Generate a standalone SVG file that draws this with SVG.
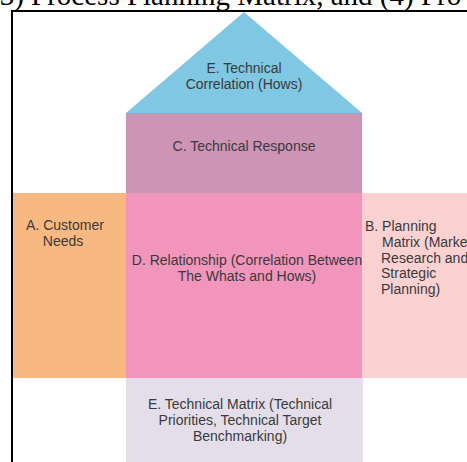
<svg xmlns="http://www.w3.org/2000/svg" width="467" height="462" viewBox="0 0 467 462">
  <style>
    .lbl { font-family: "Liberation Sans", Arial, sans-serif; font-size: 14px; fill: #3a3a3a; }
    .mid { text-anchor: middle; }
    .cap { font-family: "Liberation Serif", "Times New Roman", serif; font-size: 29px; fill: #000; }
  </style>

  <rect x="0" y="0" width="467" height="462" fill="#ffffff"/>

  <!-- caption line running off the top edge -->
  <text class="cap" x="-10" y="5">(3) Process Planning Matrix, and (4) Pro</text>

  <!-- house of quality blocks -->
  <g id="roof">
    <polygon points="244,12 126,113 362,113" fill="#80C7E4"/>
    <text class="lbl mid" x="244" y="73">E. Technical</text>
    <text class="lbl mid" x="244" y="89">Correlation (Hows)</text>
  </g>

  <g id="technical-response">
    <rect x="126" y="113" width="236" height="80" fill="#CD94B6"/>
    <line x1="126" y1="113.5" x2="362" y2="113.5" stroke="#8aa9c0" stroke-width="1"/>
    <text class="lbl mid" x="244" y="151">C. Technical Response</text>
  </g>

  <g id="customer-needs">
    <rect x="12" y="193" width="114" height="185" fill="#F8B881"/>
    <text class="lbl mid" x="65" y="230" fill="#4a3a30">A. Customer</text>
    <text class="lbl mid" x="63" y="246" fill="#4a3a30">Needs</text>
  </g>

  <g id="relationship">
    <rect x="126" y="193" width="236" height="185" fill="#F295BA"/>
    <text class="lbl mid" x="247" y="265" fill="#4d2c3e">D. Relationship (Correlation Between</text>
    <text class="lbl mid" x="247" y="281" fill="#4d2c3e">The Whats and Hows)</text>
  </g>

  <g id="planning-matrix">
    <rect x="362" y="193" width="105" height="185" fill="#FCD1D1"/>
    <text class="lbl" x="365" y="231">B. Planning</text>
    <text class="lbl" x="382" y="247">Matrix (Market</text>
    <text class="lbl" x="381" y="263">Research and</text>
    <text class="lbl" x="381" y="278">Strategic</text>
    <text class="lbl" x="381" y="294">Planning)</text>
  </g>

  <g id="technical-matrix">
    <rect x="126" y="378" width="237" height="84" fill="#E4DEEA"/>
    <text class="lbl mid" x="240" y="409">E. Technical Matrix (Technical</text>
    <text class="lbl mid" x="240" y="425">Priorities, Technical Target</text>
    <text class="lbl mid" x="240" y="441">Benchmarking)</text>
  </g>

  <!-- outer frame, open to the right and bottom -->
  <g id="connectors">
    <polyline points="12,470 12,11 480,11" fill="none" stroke="#000" stroke-width="2"/>
  </g>
</svg>
